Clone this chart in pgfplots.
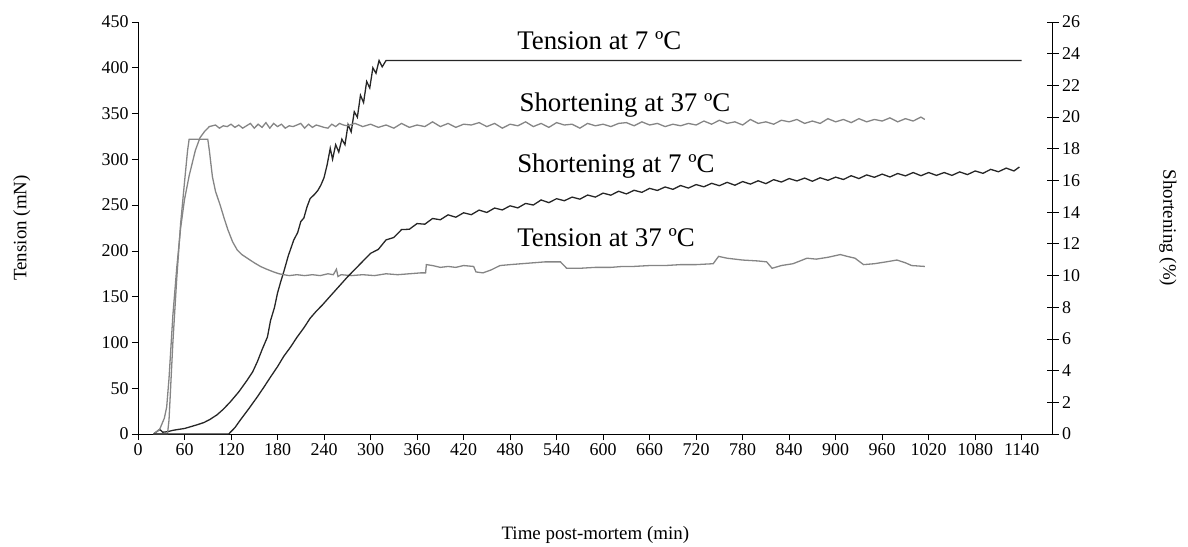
\documentclass[border=0pt]{standalone}
\usepackage{fontspec}
\setmainfont{Liberation Serif}
\usepackage{pgfplots}
\pgfplotsset{compat=1.18}
\definecolor{dk}{HTML}{262626}
\definecolor{gr}{HTML}{858585}
\begin{document}
\begin{tikzpicture}
\begin{axis}[
 at={(0,0)}, anchor=south west,
 scale only axis, width=914.7bp, height=412bp,
 xmin=0, xmax=1180, ymin=0, ymax=450,
 axis x line*=bottom, axis y line*=left,
 xtick={0,60,...,1140}, ytick={0,50,...,450},
 tick align=outside, major tick length=6bp,
 tick style={black, line width=0.7bp},
 axis line style={black, line width=0.7bp},
 ticklabel style={font=\fontsize{18}{20}\selectfont},
 /pgf/number format/assume math mode=true,
 /pgf/number format/1000 sep={},
 xlabel={Time post-mortem (min)},
 ylabel={Tension (mN)},
 label style={font=\fontsize{19}{22}\selectfont},
 xlabel style={at={(axis description cs:0.5,-0.245)}, anchor=center},
 ylabel style={at={(axis description cs:-0.127,0.5)}, anchor=center},
 clip=false,
]
% Tension at 7 C
\addplot[dk, line width=1.3bp] coordinates {
(20,0) (25,3) (28,5) (32,2) (38,2.5) (45,4) (52,5) (60,6) (68,8) (76,10) (85,12.5) (93,16) (102,21) (110,27) (119,35) (130,46) (141,59) (148,68) (154,79) (160,92) (167,106) (171,124) (176,138) (180,154) (184,166) (188,177) (194,195) (201,212) (206,220) (210,232) (214,236) (218,248) (222,257) (228,262) (232,266) (236,272) (240,280) (244,294) (248,312) (251,300) (255,316) (259,308) (263,322) (267,316) (271,338) (275,330) (279,352) (283,346) (287,370) (291,362) (295,385) (299,378) (303,400) (307,394) (311,408) (315,401) (320,408) (1140,408)
};
% Tension at 37 C
\addplot[gr, line width=1.3bp] coordinates {
(20,0) (38,0) (40,15) (45,100) (50,170) (55,230) (60,275) (64,310) (66,322) (90,322) (92,310) (96,281) (100,265) (106,250) (111,236) (116,223) (122,210) (128,201) (134,196) (141,192) (150,187) (158,183) (166,180) (175,177) (182,175) (188,174) (195,173) (205,174) (215,173) (225,174) (235,173) (245,175) (252,174) (256,180) (258,172) (262,174) (275,173) (290,174) (305,173) (320,175) (335,174) (350,175) (365,176) (371,176) (372,185) (380,184) (390,182) (400,183) (410,182) (420,184) (433,183) (436,177) (445,176) (455,179) (467,184) (480,185) (495,186) (510,187) (525,188) (545,188) (553,181) (570,181) (590,182) (610,182) (625,183) (639,183) (660,184) (680,184) (700,185) (720,185) (742,186) (749,194) (760,192) (780,190) (800,189) (811,188) (818,181) (830,184) (845,186) (863,192) (875,191) (890,193) (906,196) (915,194) (925,192) (936,185) (950,186) (965,188) (979,190) (990,187) (998,184) (1015,183)
};
\node[anchor=base west, inner sep=0pt, font=\fontsize{27}{30}\selectfont] at (axis cs:489,420) {Tension at 7 ºC};
\node[anchor=base west, inner sep=0pt, font=\fontsize{27}{30}\selectfont] at (axis cs:492,352) {Shortening at 37 ºC};
\node[anchor=base west, inner sep=0pt, font=\fontsize{27}{30}\selectfont] at (axis cs:489,286) {Shortening at 7 ºC};
\node[anchor=base west, inner sep=0pt, font=\fontsize{27}{30}\selectfont] at (axis cs:489,205) {Tension at 37 ºC};
\end{axis}
\begin{axis}[
 at={(0,0)}, anchor=south west,
 scale only axis, width=914.7bp, height=412bp,
 xmin=0, xmax=1180, ymin=0, ymax=26,
 axis x line=none, axis y line*=right,
 ytick={0,2,...,26},
 tick align=center, major tick length=12bp,
 tick style={black, line width=0.7bp},
 axis line style={black, line width=0.7bp},
 ticklabel style={font=\fontsize{18}{20}\selectfont},
 /pgf/number format/assume math mode=true,
 ylabel={Shortening (\%)},
 label style={font=\fontsize{19}{22}\selectfont},
 ylabel style={at={(axis description cs:1.126,0.5)}, anchor=center, rotate=180},
 clip=false,
]
% Shortening at 37 C
\addplot[gr, line width=1.3bp] coordinates {
(20,0) (28,0.3) (34,1) (37,1.7) (40,3.5) (45,7.5) (50,10.5) (55,13) (60,14.8) (66,16.3) (74,17.9) (80,18.7) (86,19.1) (92,19.4) (100,19.5) (105,19.3) (110,19.45) (115,19.4) (120,19.55) (125,19.35) (130,19.5) (135,19.3) (140,19.45) (145,19.6) (150,19.3) (155,19.55) (160,19.35) (165,19.65) (170,19.3) (175,19.6) (180,19.4) (185,19.55) (190,19.3) (195,19.45) (200,19.4) (210,19.6) (215,19.3) (220,19.55) (225,19.35) (230,19.5) (240,19.35) (245,19.3) (250,19.55) (255,19.4) (260,19.6) (265,19.5) (270,19.45) (280,19.6) (290,19.4) (300,19.55) (310,19.35) (320,19.5) (330,19.3) (340,19.6) (350,19.35) (360,19.5) (370,19.4) (380,19.7) (390,19.4) (400,19.6) (410,19.35) (420,19.55) (430,19.5) (440,19.65) (450,19.4) (460,19.6) (470,19.3) (480,19.55) (490,19.45) (500,19.7) (510,19.4) (520,19.6) (530,19.35) (540,19.65) (550,19.5) (560,19.55) (570,19.3) (580,19.6) (590,19.45) (600,19.55) (610,19.4) (620,19.6) (630,19.65) (640,19.45) (650,19.7) (660,19.5) (670,19.6) (680,19.4) (690,19.55) (700,19.45) (710,19.6) (720,19.5) (730,19.75) (740,19.55) (750,19.8) (760,19.6) (770,19.7) (780,19.5) (790,19.85) (800,19.6) (810,19.7) (820,19.55) (830,19.8) (840,19.7) (850,19.85) (860,19.6) (870,19.75) (880,19.6) (890,19.9) (900,19.7) (910,19.85) (920,19.65) (930,19.9) (940,19.7) (950,19.85) (960,19.75) (970,19.95) (980,19.7) (990,19.9) (1000,19.75) (1010,20.0) (1015,19.85)
};
% Shortening at 7 C
\addplot[dk, line width=1.3bp] coordinates {
(20,0) (117,0) (125,0.4) (132,0.88) (143,1.6) (154,2.35) (163,3.0) (171,3.6) (180,4.25) (188,4.9) (197,5.5) (205,6.1) (214,6.7) (222,7.3) (230,7.75) (238,8.15) (248,8.7) (259,9.3) (270,9.9) (283,10.55) (292,11.0) (300,11.4) (310,11.65) (320,12.25) (330,12.4) (340,12.9) (350,12.92) (360,13.28) (370,13.24) (380,13.6) (390,13.52) (400,13.83) (410,13.68) (420,13.96) (430,13.84) (440,14.13) (450,13.98) (460,14.26) (470,14.14) (480,14.4) (490,14.27) (500,14.55) (510,14.45) (520,14.77) (530,14.6) (540,14.85) (550,14.72) (560,14.95) (570,14.82) (580,15.08) (590,14.95) (600,15.2) (610,15.07) (620,15.32) (630,15.15) (640,15.38) (650,15.25) (660,15.5) (670,15.37) (680,15.59) (690,15.44) (700,15.68) (710,15.52) (720,15.74) (730,15.6) (740,15.82) (750,15.67) (760,15.88) (770,15.7) (780,15.93) (790,15.77) (800,15.98) (810,15.8) (820,16.05) (830,15.9) (840,16.12) (850,15.97) (860,16.15) (870,15.95) (880,16.17) (890,16.01) (900,16.21) (910,16.06) (920,16.3) (930,16.12) (940,16.35) (950,16.2) (960,16.4) (970,16.22) (980,16.44) (990,16.29) (1000,16.5) (1010,16.3) (1020,16.5) (1030,16.32) (1040,16.5) (1050,16.32) (1060,16.54) (1070,16.37) (1080,16.6) (1090,16.45) (1100,16.7) (1110,16.55) (1120,16.78) (1130,16.6) (1137,16.85)
};
\end{axis}
\pgfresetboundingbox
\path (-138bp,-113bp) rectangle (1050bp,434bp);
\end{tikzpicture}
\end{document}
